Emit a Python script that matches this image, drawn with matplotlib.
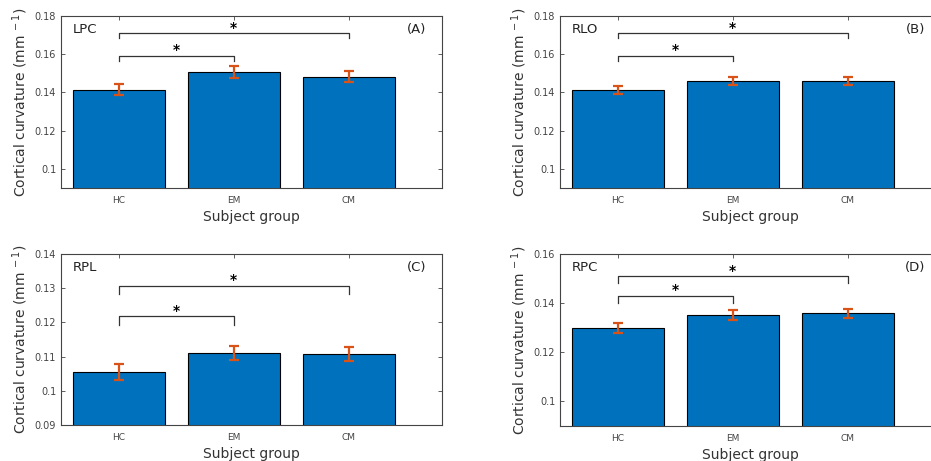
import numpy as np
import matplotlib.pyplot as plt

groups = ['HC', 'EM', 'CM']

# mean curvature and standard error per region
lpc_mean = [0.1414, 0.1507, 0.1483]
lpc_err = [0.0028, 0.0029, 0.0030]
rlo_mean = [0.1414, 0.1461, 0.1461]
rlo_err = [0.0021, 0.0022, 0.0020]
rpl_mean = [0.1055, 0.1111, 0.1108]
rpl_err = [0.0022, 0.0020, 0.0020]
rpc_mean = [0.1300, 0.1353, 0.1358]
rpc_err = [0.0020, 0.0020, 0.0020]

# significance brackets: (bottom, top) for HC-EM and HC-CM
lpc_brackets = [(0.1565, 0.1593), (0.1686, 0.1709)]
rlo_brackets = [(0.1565, 0.1593), (0.1683, 0.1709)]
rpl_brackets = [(0.1192, 0.1218), (0.1282, 0.1307)]
rpc_brackets = [(0.1402, 0.1430), (0.1484, 0.1510)]

bar_color = '#0072BD'
err_color = '#D95319'
axis_color = '#444444'


def draw_panel(ax, mean, err, brackets, ylim, yticks, region, tag):
    x = np.arange(1, len(groups) + 1)
    ax.bar(x, mean, width=0.8, color=bar_color, edgecolor='black', linewidth=0.8, zorder=2)
    ax.errorbar(x, mean, yerr=err, fmt='none', ecolor=err_color, elinewidth=1.6,
                capsize=3.5, capthick=1.6, zorder=3)

    # HC vs EM and HC vs CM
    for j, (lo, hi) in zip([2, 3], brackets):
        ax.plot([1, 1, j, j], [lo, hi, hi, lo], color='#333333', linewidth=0.9, zorder=4)
        ax.annotate('*', xy=((1 + j) / 2, hi), xytext=(0, -1), textcoords='offset points',
                    ha='center', va='bottom', fontsize=10, fontweight='bold', color='black')

    ax.set_xlim(0.5, 3.81)
    ax.set_ylim(*ylim)
    ax.set_xticks(x)
    ax.set_xticklabels(groups)
    ax.set_yticks(yticks)
    ax.set_yticklabels(['%g' % t for t in yticks])
    ax.tick_params(direction='in', top=True, right=True, length=3, width=0.6,
                   colors=axis_color, labelsize=7)
    ax.tick_params(axis='x', labelsize=6.5, pad=6)
    for s in ax.spines.values():
        s.set_color(axis_color)
        s.set_linewidth(0.8)

    ax.set_xlabel('Subject group', fontsize=10, color='#333333', labelpad=3.5)
    ax.set_ylabel('Cortical curvature (mm$^{\\ -1}$)', fontsize=10, color='#333333', labelpad=3)
    ax.text(0.031, 0.92, region, transform=ax.transAxes, ha='left', va='center',
            fontsize=9.5, color='#222222')
    ax.text(0.958, 0.92, tag, transform=ax.transAxes, ha='right', va='center',
            fontsize=9.5, color='#222222')


fig = plt.figure(figsize=(9.31, 4.61), dpi=100)
w = 381 / 931
h_top = 172 / 461
axA = fig.add_axes([61 / 931, 1 - 188 / 461, w, h_top])
axB = fig.add_axes([560 / 931, 1 - 188 / 461, w, h_top])
axC = fig.add_axes([61 / 931, 1 - 425 / 461, w, 171 / 461])
axD = fig.add_axes([560 / 931, 1 - 426 / 461, w, 172 / 461])

draw_panel(axA, lpc_mean, lpc_err, lpc_brackets, (0.09, 0.18),
           [0.1, 0.12, 0.14, 0.16, 0.18], 'LPC', '(A)')
draw_panel(axB, rlo_mean, rlo_err, rlo_brackets, (0.09, 0.18),
           [0.1, 0.12, 0.14, 0.16, 0.18], 'RLO', '(B)')
draw_panel(axC, rpl_mean, rpl_err, rpl_brackets, (0.09, 0.14),
           [0.09, 0.1, 0.11, 0.12, 0.13, 0.14], 'RPL', '(C)')
draw_panel(axD, rpc_mean, rpc_err, rpc_brackets, (0.09, 0.16),
           [0.1, 0.12, 0.14, 0.16], 'RPC', '(D)')

fig.savefig('out.png', dpi=100)
